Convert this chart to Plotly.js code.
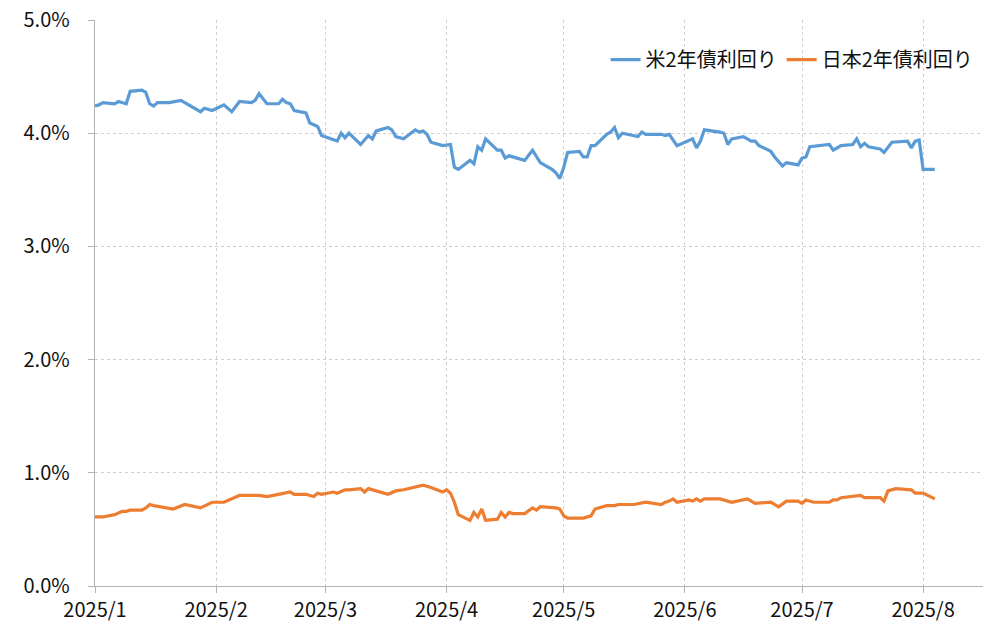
<!DOCTYPE html>
<html>
<head>
<meta charset="utf-8">
<script src="https://cdn.plot.ly/plotly-3.0.1.min.js"></script>
<style>
  html, body { margin: 0; padding: 0; background: #ffffff; }
  #chart { width: 1000px; height: 640px; }
</style>
</head>
<body>
<div id="chart"></div>
<script>
// ---- Data ----
const seriesNames = ["米2年債利回り", "日本2年債利回り"];

const usDates = [
  "2025-01-01","2025-01-02","2025-01-03","2025-01-06","2025-01-07","2025-01-09","2025-01-10",
  "2025-01-13","2025-01-14","2025-01-15","2025-01-16","2025-01-17","2025-01-20","2025-01-22",
  "2025-01-23","2025-01-28","2025-01-29","2025-01-31","2025-02-03","2025-02-05","2025-02-07",
  "2025-02-10","2025-02-11","2025-02-12","2025-02-14","2025-02-17","2025-02-18","2025-02-19",
  "2025-02-20","2025-02-21","2025-02-24","2025-02-25","2025-02-27","2025-02-28","2025-03-04",
  "2025-03-05","2025-03-06","2025-03-07","2025-03-10","2025-03-12","2025-03-13","2025-03-14",
  "2025-03-17","2025-03-18","2025-03-19","2025-03-21","2025-03-24","2025-03-25","2025-03-26",
  "2025-03-27","2025-03-28","2025-03-31","2025-04-02","2025-04-03","2025-04-04","2025-04-07",
  "2025-04-08","2025-04-09","2025-04-10","2025-04-11","2025-04-14","2025-04-15","2025-04-16",
  "2025-04-17","2025-04-21","2025-04-23","2025-04-24","2025-04-25","2025-04-28","2025-04-29",
  "2025-04-30","2025-05-01","2025-05-02","2025-05-05","2025-05-06","2025-05-07","2025-05-08",
  "2025-05-09","2025-05-12","2025-05-13","2025-05-14","2025-05-15","2025-05-16","2025-05-20",
  "2025-05-21","2025-05-22","2025-05-26","2025-05-27","2025-05-28","2025-05-30","2025-06-03",
  "2025-06-04","2025-06-05","2025-06-06","2025-06-10","2025-06-11","2025-06-12","2025-06-13",
  "2025-06-16","2025-06-18","2025-06-19","2025-06-20","2025-06-23","2025-06-24","2025-06-26",
  "2025-06-27","2025-06-30","2025-07-01","2025-07-02","2025-07-03","2025-07-08","2025-07-09",
  "2025-07-11","2025-07-14","2025-07-15","2025-07-16","2025-07-17","2025-07-18","2025-07-21",
  "2025-07-22","2025-07-24","2025-07-28","2025-07-29","2025-07-30","2025-07-31","2025-08-01",
  "2025-08-04"
];
const usYield = [
  4.24,4.25,4.27,4.26,4.28,4.26,4.37,
  4.38,4.36,4.26,4.24,4.27,4.27,4.28,
  4.29,4.19,4.22,4.20,4.25,4.19,4.28,
  4.27,4.29,4.35,4.26,4.26,4.30,4.27,
  4.26,4.20,4.18,4.09,4.06,3.98,3.93,
  4.00,3.96,4.00,3.90,3.98,3.95,4.02,
  4.05,4.03,3.97,3.95,4.03,4.01,4.02,
  3.99,3.92,3.89,3.90,3.70,3.68,3.76,
  3.73,3.88,3.85,3.95,3.85,3.85,3.78,
  3.80,3.76,3.85,3.79,3.74,3.68,3.65,
  3.60,3.70,3.83,3.84,3.79,3.79,3.89,
  3.89,3.99,4.01,4.05,3.96,4.00,3.97,
  4.01,3.99,3.99,3.98,3.99,3.89,3.95,
  3.87,3.93,4.03,4.01,4.00,3.90,3.95,
  3.97,3.93,3.93,3.89,3.84,3.79,3.71,
  3.74,3.72,3.78,3.79,3.88,3.90,3.85,
  3.89,3.90,3.95,3.88,3.91,3.88,3.86,
  3.83,3.92,3.93,3.87,3.93,3.94,3.68,
  3.68
];

const jpDates = [
  "2025-01-01","2025-01-03","2025-01-06","2025-01-08","2025-01-09","2025-01-10","2025-01-13",
  "2025-01-14","2025-01-15","2025-01-16","2025-01-21","2025-01-24","2025-01-28","2025-01-31",
  "2025-02-03","2025-02-05","2025-02-07","2025-02-12","2025-02-14","2025-02-17","2025-02-20",
  "2025-02-21","2025-02-24","2025-02-26","2025-02-27","2025-02-28","2025-03-03","2025-03-04",
  "2025-03-06","2025-03-07","2025-03-10","2025-03-11","2025-03-12","2025-03-17","2025-03-19",
  "2025-03-21","2025-03-24","2025-03-26","2025-03-28","2025-03-31","2025-04-01","2025-04-02",
  "2025-04-03","2025-04-04","2025-04-07","2025-04-08","2025-04-09","2025-04-10","2025-04-11",
  "2025-04-14","2025-04-15","2025-04-16","2025-04-17","2025-04-18","2025-04-21","2025-04-23",
  "2025-04-24","2025-04-25","2025-04-29","2025-04-30","2025-05-01","2025-05-02","2025-05-06",
  "2025-05-08","2025-05-09","2025-05-12","2025-05-14","2025-05-15","2025-05-19","2025-05-22",
  "2025-05-26","2025-05-27","2025-05-28","2025-05-29","2025-05-30","2025-06-02","2025-06-03",
  "2025-06-04","2025-06-05","2025-06-06","2025-06-10","2025-06-13","2025-06-17","2025-06-19",
  "2025-06-23","2025-06-24","2025-06-25","2025-06-27","2025-06-30","2025-07-01","2025-07-02",
  "2025-07-04","2025-07-07","2025-07-08","2025-07-09","2025-07-10","2025-07-11","2025-07-16",
  "2025-07-17","2025-07-21","2025-07-22","2025-07-23","2025-07-25","2025-07-29","2025-07-30",
  "2025-08-01","2025-08-04"
];
const jpYield = [
  0.61,0.61,0.63,0.66,0.66,0.67,0.67,
  0.69,0.72,0.71,0.68,0.72,0.69,0.74,
  0.74,0.77,0.80,0.80,0.79,0.81,0.83,
  0.81,0.81,0.79,0.82,0.81,0.83,0.82,
  0.85,0.85,0.86,0.83,0.86,0.81,0.84,
  0.85,0.87,0.89,0.87,0.83,0.85,0.82,
  0.74,0.63,0.58,0.65,0.61,0.68,0.58,
  0.59,0.65,0.61,0.65,0.64,0.64,0.69,
  0.67,0.70,0.69,0.68,0.62,0.60,0.60,
  0.62,0.68,0.71,0.71,0.72,0.72,0.74,
  0.72,0.74,0.75,0.77,0.74,0.76,0.75,
  0.77,0.75,0.77,0.77,0.74,0.77,0.73,
  0.74,0.72,0.70,0.75,0.75,0.73,0.76,
  0.74,0.74,0.74,0.76,0.76,0.78,0.80,
  0.78,0.78,0.75,0.84,0.86,0.85,0.82,
  0.82,0.77
];

const yTickVals = [0, 1, 2, 3, 4, 5];
const yTickLabels = ["0.0%", "1.0%", "2.0%", "3.0%", "4.0%", "5.0%"];
const xRange = ["2025-01-01", "2025-08-16 08:00"];

// ---- Chart ----
const FONT = '"Noto Sans CJK JP", "Noto Sans", sans-serif';
const TICKFONT = { family: FONT, size: 20, color: "#111111" };
const traces = [
  { x: usDates, y: usYield, name: seriesNames[0], type: "scatter", mode: "lines",
    line: { color: "#5B9BD5", width: 3.2 } },
  { x: jpDates, y: jpYield, name: seriesNames[1], type: "scatter", mode: "lines",
    line: { color: "#ED7D31", width: 3.2 } }
];

const layout = {
  width: 1000, height: 640,
  margin: { l: 95, r: 17, t: 20, b: 54 },
  paper_bgcolor: "#ffffff", plot_bgcolor: "#ffffff",
  font: { family: FONT, size: 20, color: "#111111" },
  showlegend: true,
  legend: {
    orientation: "h", x: 0.995, xanchor: "right", y: 0.93, yanchor: "middle",
    font: { family: FONT, size: 20, color: "#111111" }, bgcolor: "rgba(0,0,0,0)"
  },
  xaxis: {
    type: "date", range: xRange, dtick: "M1", tick0: "2025-01-01", tickformat: "%Y/%-m",
    showgrid: true, gridcolor: "#cfcfcf", griddash: "dot", gridwidth: 1,
    showline: true, linecolor: "#b3b3b3", linewidth: 1.3,
    ticks: "outside", ticklen: 6, tickcolor: "#b3b3b3",
    zeroline: false, tickfont: TICKFONT
  },
  yaxis: {
    range: [0, 5], tickmode: "array", tickvals: yTickVals, ticktext: yTickLabels,
    showgrid: true, gridcolor: "#cfcfcf", griddash: "dot", gridwidth: 1,
    showline: true, linecolor: "#b3b3b3", linewidth: 1.3,
    ticks: "outside", ticklen: 6, tickcolor: "#b3b3b3", ticklabelstandoff: 14,
    zeroline: false, tickfont: TICKFONT
  }
};

Plotly.newPlot("chart", traces, layout, { displayModeBar: false, staticPlot: true });
</script>
</body>
</html>
